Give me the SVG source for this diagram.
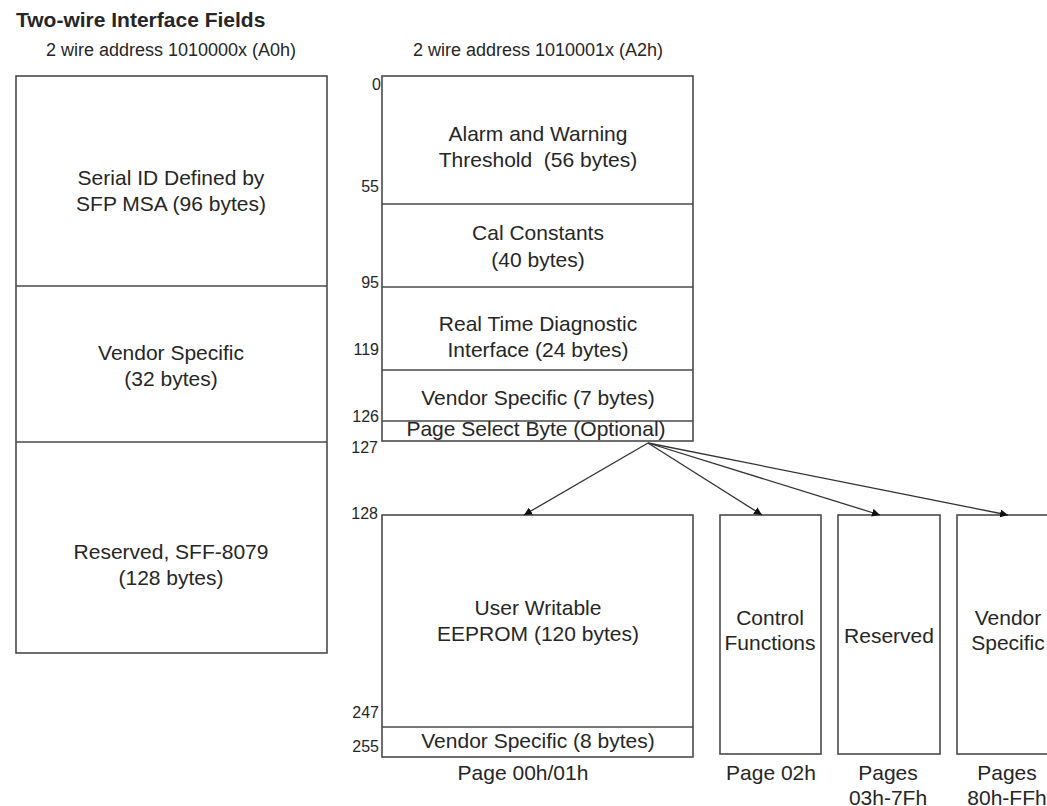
<svg xmlns="http://www.w3.org/2000/svg" width="1047" height="806" viewBox="0 0 1047 806">
<defs>
<style>
.box{fill:#fff;stroke:#4a4a4a;stroke-width:1.6}
.div{stroke:#4a4a4a;stroke-width:1.6;fill:none}
.t{font-family:"Liberation Sans",Arial,sans-serif;font-size:21px;fill:#262626;text-anchor:middle}
.n{font-family:"Liberation Sans",Arial,sans-serif;font-size:16px;fill:#262626;text-anchor:end}
.h{font-family:"Liberation Sans",Arial,sans-serif;font-size:18px;fill:#262626;text-anchor:middle}
.title{font-family:"Liberation Sans",Arial,sans-serif;font-size:21px;font-weight:bold;fill:#262626}
.c{stroke:#333;stroke-width:1.3;fill:none;marker-end:url(#ah)}
</style>
<marker id="ah" viewBox="0 0 10 10" refX="10" refY="5" markerWidth="8" markerHeight="8" markerUnits="userSpaceOnUse" orient="auto">
<path d="M0,0 L10,5 L0,10 z" fill="#111"/>
</marker>
</defs>
<rect width="1047" height="806" fill="#fff"/>
<text class="title" x="16" y="27">Two-wire Interface Fields</text>
<text class="h" x="171" y="56">2 wire address 1010000x (A0h)</text>
<text class="h" x="538" y="56">2 wire address 1010001x (A2h)</text>

<g id="a0h">
<rect class="box" x="16" y="76" width="311" height="577"/>
<line class="div" x1="16" y1="286" x2="327" y2="286"/>
<line class="div" x1="16" y1="442" x2="327" y2="442"/>
<text class="t" x="171" y="185">Serial ID Defined by</text>
<text class="t" x="171" y="211">SFP MSA (96 bytes)</text>
<text class="t" x="171" y="360">Vendor Specific</text>
<text class="t" x="171" y="386">(32 bytes)</text>
<text class="t" x="171" y="559">Reserved, SFF-8079</text>
<text class="t" x="171" y="585">(128 bytes)</text>
</g>

<g id="a2h">
<rect class="box" x="382" y="76" width="311" height="365"/>
<line class="div" x1="382" y1="204" x2="693" y2="204"/>
<line class="div" x1="382" y1="287" x2="693" y2="287"/>
<line class="div" x1="382" y1="370" x2="693" y2="370"/>
<line class="div" x1="382" y1="421" x2="693" y2="421"/>
<text class="t" x="538" y="141">Alarm and Warning</text>
<text class="t" x="538" y="167" xml:space="preserve">Threshold  (56 bytes)</text>
<text class="t" x="538" y="240">Cal Constants</text>
<text class="t" x="538" y="267">(40 bytes)</text>
<text class="t" x="538" y="331">Real Time Diagnostic</text>
<text class="t" x="538" y="357">Interface (24 bytes)</text>
<text class="t" x="538" y="405">Vendor Specific (7 bytes)</text>
<text class="t" x="536" y="436">Page Select Byte (Optional)</text>
<text class="n" x="381" y="90">0</text>
<text class="n" x="379" y="192">55</text>
<text class="n" x="379" y="288">95</text>
<text class="n" x="379" y="355">119</text>
<text class="n" x="379" y="422">126</text>
<text class="n" x="378" y="453">127</text>
</g>

<g id="page00">
<rect class="box" x="382" y="515" width="311" height="242"/>
<line class="div" x1="382" y1="727" x2="693" y2="727"/>
<text class="t" x="538" y="615">User Writable</text>
<text class="t" x="538" y="641">EEPROM (120 bytes)</text>
<text class="t" x="538" y="748">Vendor Specific (8 bytes)</text>
<text class="t" x="523" y="780">Page 00h/01h</text>
<text class="n" x="378" y="519">128</text>
<text class="n" x="379" y="718">247</text>
<text class="n" x="379" y="752">255</text>
</g>

<g id="page02">
<rect class="box" x="720" y="515" width="101" height="239"/>
<text class="t" x="770" y="625">Control</text>
<text class="t" x="770" y="650">Functions</text>
<text class="t" x="771" y="780">Page 02h</text>
</g>

<g id="page03">
<rect class="box" x="838" y="515" width="102" height="239"/>
<text class="t" x="889" y="643">Reserved</text>
<text class="t" x="888" y="780">Pages</text>
<text class="t" x="888" y="805">03h-7Fh</text>
</g>

<g id="page80">
<rect class="box" x="957" y="515" width="102" height="239"/>
<text class="t" x="1008" y="625">Vendor</text>
<text class="t" x="1008" y="650">Specific</text>
<text class="t" x="1007" y="780">Pages</text>
<text class="t" x="1007" y="805">80h-FFh</text>
</g>

<g id="connectors">
<line class="c" x1="648" y1="443" x2="524" y2="515"/>
<line class="c" x1="648" y1="443" x2="762" y2="515"/>
<line class="c" x1="648" y1="443" x2="880" y2="515"/>
<line class="c" x1="648" y1="443" x2="1008" y2="515"/>
</g>
</svg>
